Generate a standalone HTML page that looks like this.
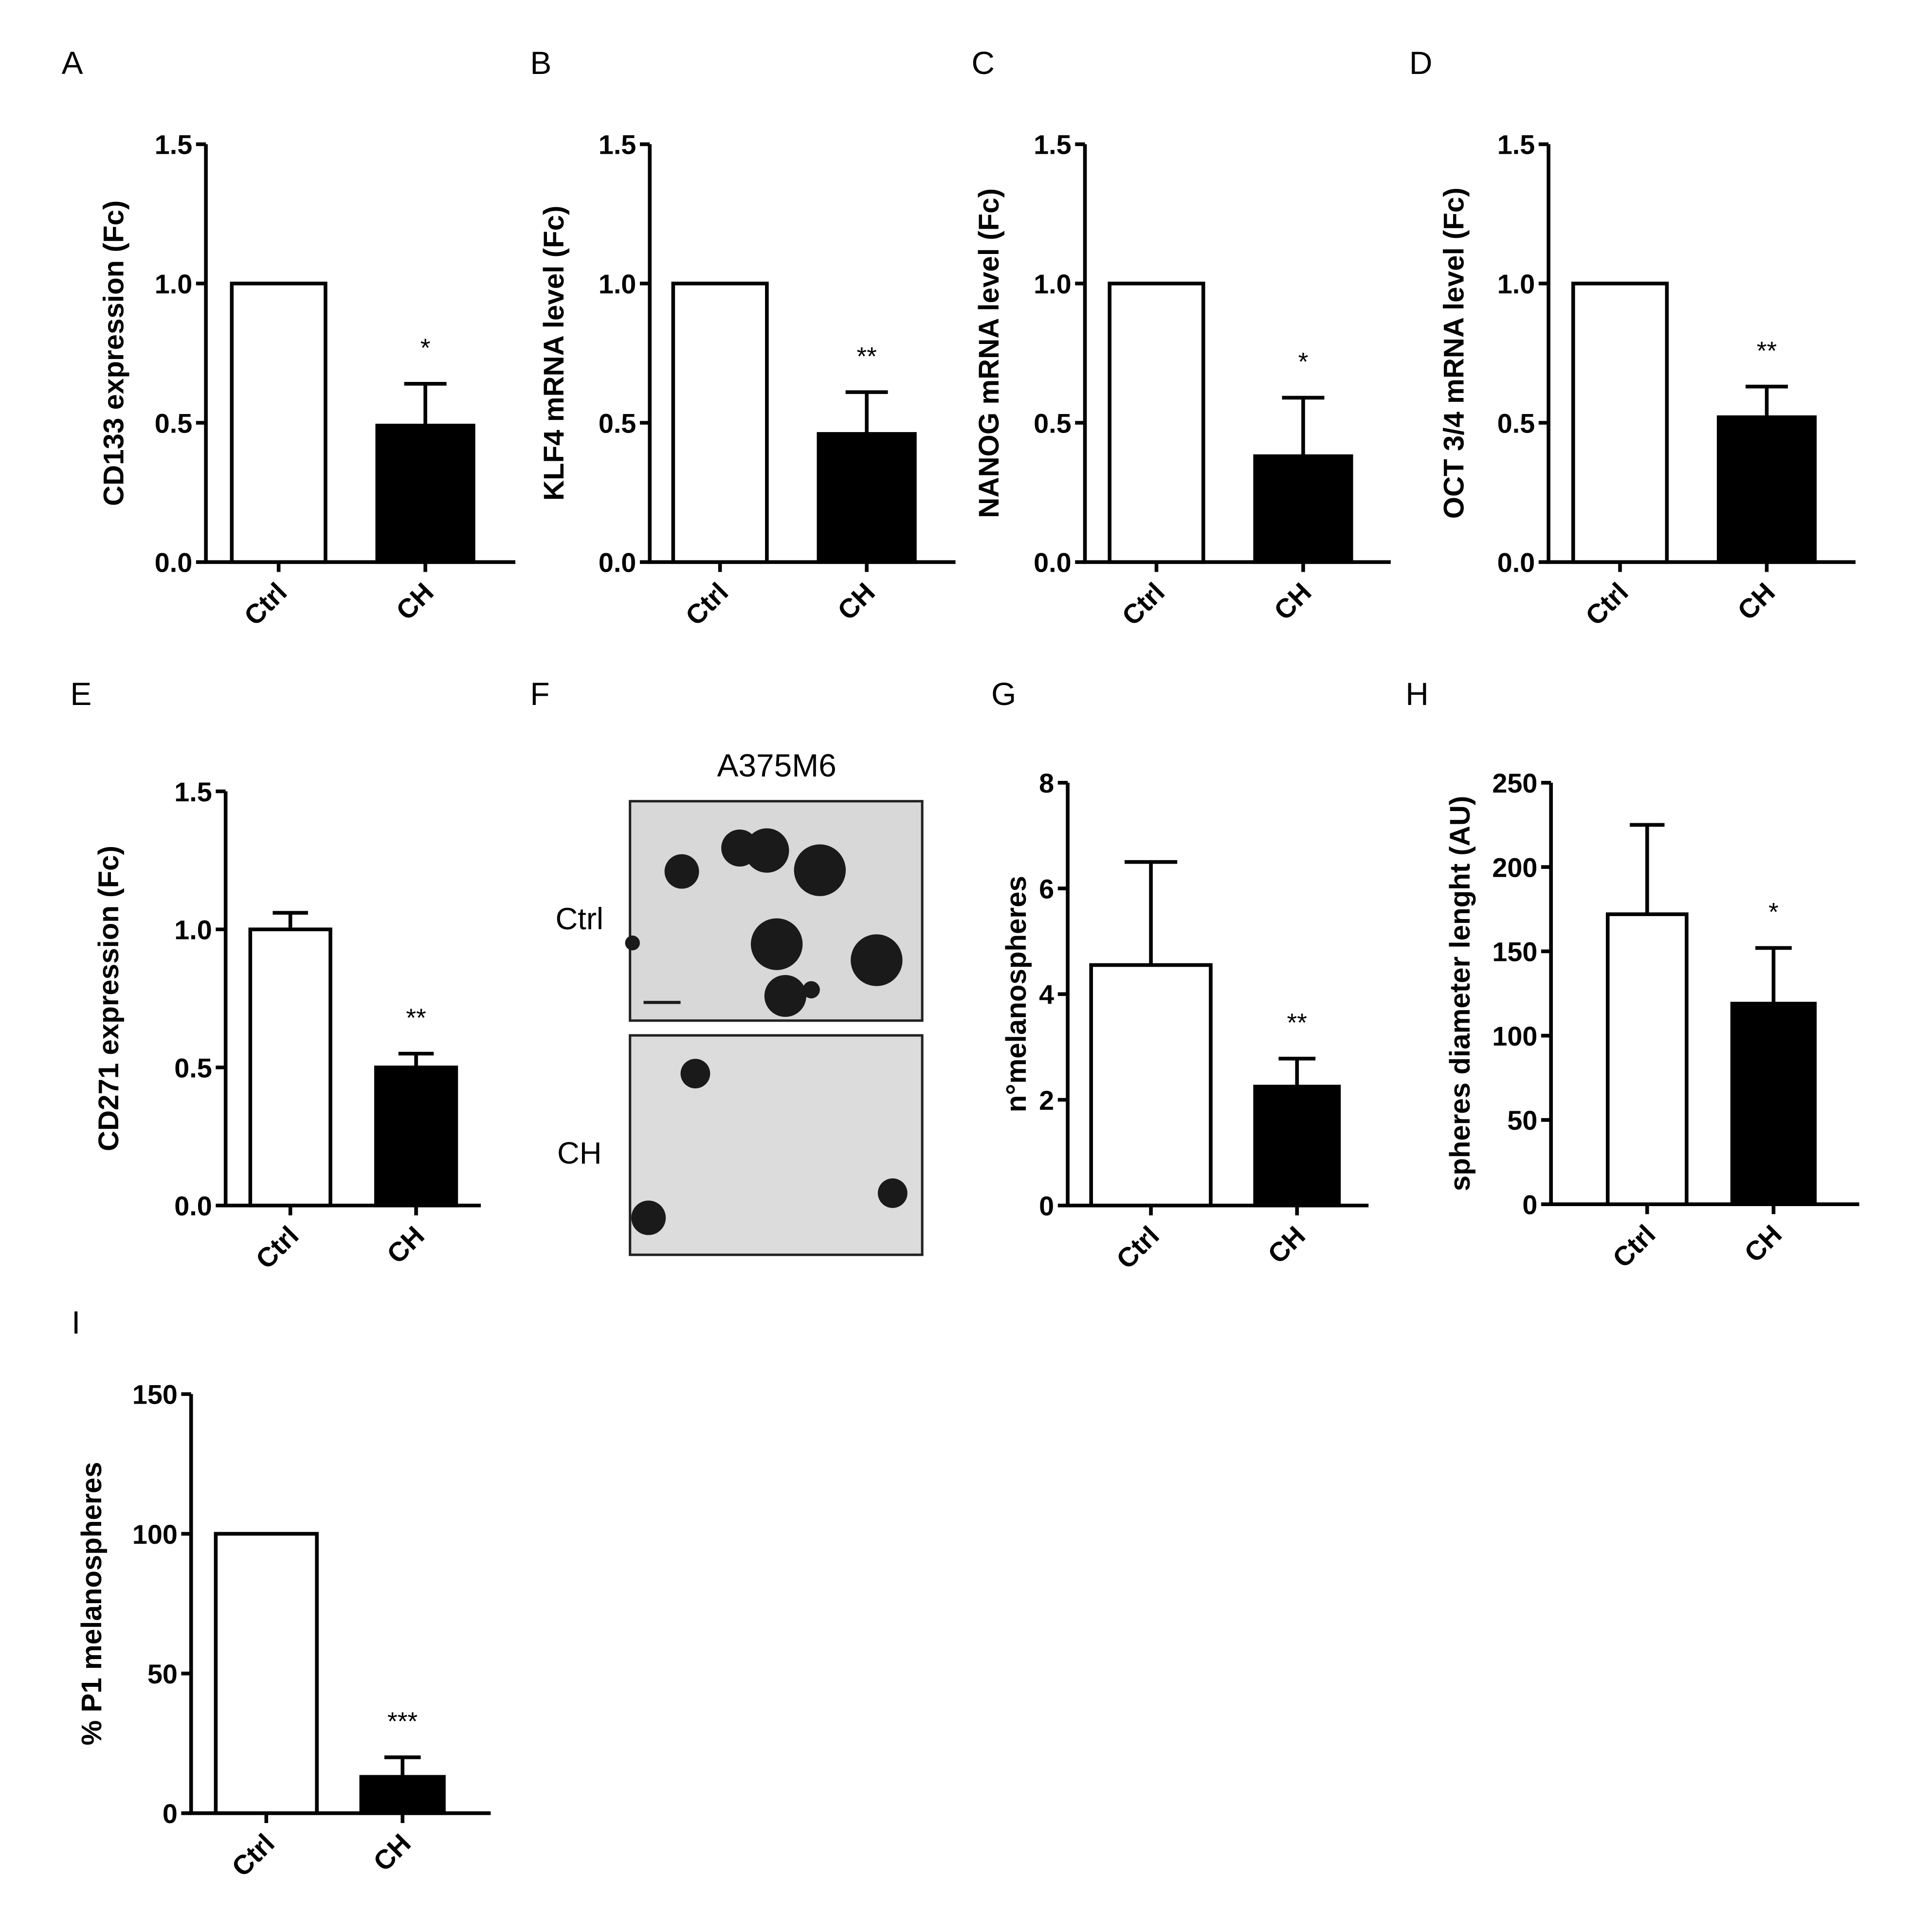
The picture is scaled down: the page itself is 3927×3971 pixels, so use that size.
<!DOCTYPE html>
<html><head><meta charset="utf-8"><style>
html,body{margin:0;padding:0;background:#fff}
svg{display:block}
text{font-family:"Liberation Sans",Arial,sans-serif}
</style></head><body>
<svg id="fig" width="3927" height="3971" viewBox="0 0 1550 1567.4" preserveAspectRatio="none" xmlns="http://www.w3.org/2000/svg">
<g>
<text x="50" y="60" font-size="26">A</text>
<text x="430" y="60" font-size="26">B</text>
<text x="788" y="60" font-size="26">C</text>
<text x="1143" y="60" font-size="26">D</text>
<text x="57" y="572" font-size="26">E</text>
<text x="430" y="572" font-size="26">F</text>
<text x="804" y="572" font-size="26">G</text>
<text x="1140" y="572" font-size="26">H</text>
<text x="58" y="1082" font-size="26">I</text>
<text x="630" y="630" font-size="26" text-anchor="middle">A375M6</text>
<text x="470" y="754" font-size="25" text-anchor="middle">Ctrl</text>
<text x="470" y="944" font-size="25" text-anchor="middle">CH</text>
<rect x="511" y="650" width="237" height="178" fill="#d8d8d8" stroke="#222" stroke-width="2"/>
<rect x="511" y="840" width="237" height="178" fill="#dcdcdc" stroke="#222" stroke-width="2"/>
<g fill="#1a1a1a">
<circle cx="553" cy="707" r="14"/><circle cx="600" cy="688" r="15"/><circle cx="622" cy="690" r="18"/>
<circle cx="665" cy="706" r="21"/><circle cx="630" cy="766" r="21"/><circle cx="711" cy="779" r="21"/>
<circle cx="637" cy="808" r="17"/><circle cx="658" cy="803" r="7"/><circle cx="513" cy="765" r="6"/>
<circle cx="564" cy="871" r="12"/><circle cx="526" cy="988" r="14"/><circle cx="724" cy="968" r="12"/>
<rect x="522" y="812" width="30" height="2.5"/>
</g>
</g>
<g id="charts"></g>
</svg>
<script>
const categories=["Ctrl","CH"];
const valuesA=[1.0,0.49], errA=[0,0.64], ticksA=[0,0.5,1.0,1.5], labelsA=["0.0","0.5","1.0","1.5"];
const valuesB=[1.0,0.46], errB=[0,0.61];
const valuesC=[1.0,0.38], errC=[0,0.59];
const valuesD=[1.0,0.52], errD=[0,0.63];
const valuesE=[1.0,0.50], errE=[1.06,0.55];
const valuesG=[4.55,2.25], errG=[6.5,2.78], ticksG=[0,2,4,6,8], labelsG=["0","2","4","6","8"];
const valuesH=[172,119], errH=[225,152], ticksH=[0,50,100,150,200,250], labelsH=["0","50","100","150","200","250"];
const valuesI=[100,13], errI=[0,20], ticksI=[0,50,100,150], labelsI=["0","50","100","150"];
const starsA=["","*"], starsB=["","**"], starsC=["","*"], starsD=["","**"], starsE=["","**"], starsG=["","**"], starsH=["","*"], starsI=["","***"];

const NS="http://www.w3.org/2000/svg";
const root=document.getElementById("charts");
function mk(tag,attrs,parent){const e=document.createElementNS(NS,tag);for(const k in attrs)e.setAttribute(k,attrs[k]);parent.appendChild(e);return e;}

function panel(id,cfg,vals,errs,stars,ticks,tlabels){
  const g=mk("g",{},root);
  
  
  const ymax=ticks[ticks.length-1];
  const y=v=>cfg.zero-(v/ymax)*(cfg.zero-cfg.top);
  const ax=mk("path",{d:`M${cfg.ax} ${cfg.top} V${cfg.zero} H${cfg.xend}`,stroke:"#000","stroke-width":3,fill:"none"},g);
  
  
  ticks.forEach((t,i)=>{
    mk("line",{x1:cfg.ax-8,x2:cfg.ax,y1:y(t),y2:y(t),stroke:"#000","stroke-width":3},g);
    const tx=mk("text",{x:cfg.ax-11,y:y(t)+8,"font-size":22,"font-weight":"bold","text-anchor":"end"},g);
    tx.textContent=tlabels[i];
    
    
  });
  const yl=mk("text",{x:0,y:0,"font-size":23,"font-weight":"bold","text-anchor":"middle",transform:`translate(${cfg.lx},${(cfg.top+cfg.zero)/2}) rotate(-90)`},g);
  yl.textContent=cfg.label;
  
  
  vals.forEach((v,i)=>{
    const [x0,x1]=cfg.bars[i];
    const cx=(x0+x1)/2;
    const r=mk("rect",{x:x0,y:y(v),width:x1-x0,height:cfg.zero-y(v),fill:i==0?"#fff":"#000",stroke:"#000","stroke-width":3},g);
    
    
    if(errs[i]>v){
      const w=(x1-x0)*0.22;
      const eb=mk("path",{d:`M${cx} ${y(v)} V${y(errs[i])} M${cx-w} ${y(errs[i])} H${cx+w}`,stroke:"#000","stroke-width":3,fill:"none"},g);
      
      
    }
    mk("line",{x1:cx,x2:cx,y1:cfg.zero,y2:cfg.zero+8,stroke:"#000","stroke-width":3},g);
    const xl=mk("text",{x:0,y:0,"font-size":22,"font-weight":"bold","text-anchor":"end",transform:`translate(${cx+8},${cfg.zero+26}) rotate(-45)`},g);
    xl.textContent=categories[i];
    
    
    if(stars[i]){
      const top=Math.max(v,errs[i]);
      const s=mk("text",{x:cx,y:y(top)-22,"font-size":21,"text-anchor":"middle"},g);
      s.textContent=stars[i];
      
      
    }
  });
}
panel("a",{ax:167,top:117,zero:456,xend:418,lx:100,label:"CD133 expression (Fc)",bars:[[188,264],[306,384]]},valuesA,errA,starsA,ticksA,labelsA);
panel("b",{ax:527,top:117,zero:456,xend:775,lx:457,label:"KLF4 mRNA level (Fc)",bars:[[546,622],[664,742]]},valuesB,errB,starsB,ticksA,labelsA);
panel("c",{ax:880,top:117,zero:456,xend:1128,lx:810,label:"NANOG mRNA level (Fc)",bars:[[900,976],[1018,1096]]},valuesC,errC,starsC,ticksA,labelsA);
panel("d",{ax:1256,top:117,zero:456,xend:1505,lx:1187,label:"OCT 3/4 mRNA level (Fc)",bars:[[1276,1352],[1394,1472]]},valuesD,errD,starsD,ticksA,labelsA);
panel("e",{ax:183,top:642,zero:978,xend:390,lx:96,label:"CD271 expression (Fc)",bars:[[203,268],[305,370]]},valuesE,errE,starsE,ticksA,labelsA);
panel("g",{ax:866,top:635,zero:978,xend:1110,lx:832,label:"n°melanospheres",bars:[[885,982],[1018,1086]]},valuesG,errG,starsG,ticksG,labelsG);
panel("h",{ax:1258,top:635,zero:977,xend:1508,lx:1192,label:"spheres diameter lenght (AU)",bars:[[1304,1368],[1405,1472]]},valuesH,errH,starsH,ticksH,labelsH);
panel("i",{ax:155,top:1131,zero:1471,xend:398,lx:82,label:"% P1 melanospheres",bars:[[175,257],[293,360]]},valuesI,errI,starsI,ticksI,labelsI);
</script>
</body></html>
